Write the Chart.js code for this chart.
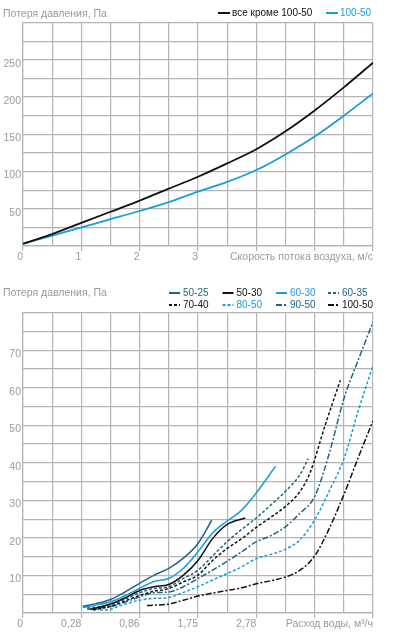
<!DOCTYPE html>
<html><head><meta charset="utf-8">
<script src="https://cdn.jsdelivr.net/npm/chart.js@4.4.1/dist/chart.umd.min.js"></script>
<style>
html,body{margin:0;padding:0;background:#fff;}
canvas{position:absolute;left:0;}
#c1{top:0;}
#c2{top:270px;}
</style></head><body>
<canvas id="c1" width="397" height="270"></canvas>
<canvas id="c2" width="397" height="368"></canvas>
<script>
// ---------- DATA ----------
const yTitle = 'Потеря давления, Па';

// top chart: pressure loss vs air speed
const airSpeed = [0, 0.5, 1, 1.5, 2, 2.5, 3, 3.5, 4, 4.5, 5, 5.5, 6];
const lossAllBut = [3, 16, 31, 46, 61, 77, 93, 111, 130, 154, 182, 213, 246];
const loss100_50 = [3, 14, 25, 36, 47, 59, 73, 86, 102, 123, 147, 175, 205];
const airNames = ['все кроме 100-50', '100-50'];
const airTickLabels = ['0', '1', '2', '3'];
const airTitle = 'Скорость потока воздуха, м/с';

// bottom chart: pressure loss vs water flow (x in grid positions)
const flowTickLabels = ['0', '0,28', '0,86', '1,75', '2,78'];
const flowTitle = 'Расход воды, м³/ч';
const seriesNames = ['50-25', '50-30', '60-30', '60-35', '70-40', '80-50', '90-50', '100-50'];

const s50_25x = [2.05, 2.5, 3, 3.5, 4, 4.5, 5, 5.5, 6, 6.47];
const s50_25y = [1.8, 2.5, 3.6, 5.6, 7.9, 10.1, 11.9, 14.6, 18.5, 24.7];
const s50_30x = [2.3, 3, 3.5, 4, 4.5, 5, 5.5, 6, 6.5, 7, 7.62];
const s50_30y = [0.9, 2.4, 4.0, 6.0, 7.0, 7.6, 10.1, 14.0, 19.8, 23.6, 25.3];
const s60_30x = [2.05, 2.5, 3, 3.5, 4, 4.5, 5, 5.5, 6, 6.5, 7, 7.5, 8, 8.66];
const s60_30y = [1.5, 2.1, 3.0, 4.6, 6.6, 8.4, 9.2, 11.9, 16.3, 21.3, 24.5, 27.4, 32.0, 39.1];
const s60_35x = [2.2, 3, 3.5, 4, 4.5, 5, 5.5, 6, 6.5, 7, 7.5, 8, 8.5, 9, 9.5, 9.78];
const s60_35y = [1.3, 2.2, 3.7, 5.4, 6.5, 7.0, 9.2, 11.4, 15.2, 19.0, 22.3, 25.3, 28.8, 32.4, 36.9, 41.1];
const s70_40x = [2.4, 3, 3.5, 4, 4.5, 5, 5.5, 6, 6.5, 7, 7.5, 8, 8.5, 9, 9.5, 9.85, 10.35, 10.88];
const s70_40y = [0.8, 1.8, 3.2, 4.7, 5.8, 6.5, 8.3, 10.1, 14.0, 17.2, 19.8, 22.8, 25.5, 28.4, 32.4, 37.5, 49.8, 62.0];
const s80_50x = [2.3, 2.8, 3.5, 4, 4.5, 5, 5.5, 6, 6.5, 7, 7.5, 8, 8.5, 9, 9.5, 10, 10.5, 11, 11.5, 12];
const s80_50y = [1.2, 0.8, 2.4, 3.4, 3.9, 4.1, 5.5, 7.0, 8.8, 10.5, 12.3, 14.5, 15.6, 17.0, 19.5, 24.8, 32.5, 41.0, 54.0, 65.9];
const s90_50x = [2.2, 3, 3.5, 4, 4.5, 5, 5.5, 6, 6.5, 7, 7.5, 8, 8.5, 9, 9.5, 10, 10.5, 11, 11.5, 12];
const s90_50y = [1.0, 1.7, 2.9, 4.3, 5.4, 5.6, 7.0, 9.2, 11.4, 13.8, 16.3, 19.0, 20.6, 23.0, 26.6, 31.0, 42.5, 57.0, 67.5, 77.5];
const s100_50x = [4.25, 5, 5.5, 6, 6.5, 7, 7.5, 8, 8.5, 9, 9.5, 10, 10.5, 11, 11.5, 12];
const s100_50y = [2.0, 2.4, 3.4, 4.5, 5.3, 6.0, 6.7, 7.8, 8.6, 9.6, 11.4, 15.2, 22.5, 31.5, 41.5, 51.2];

// ---------- STYLE ----------
const FONT = "'Liberation Sans', Arial, sans-serif";
const GRAY_TXT = '#9a9a9a';
const GRID = '#b4b4b4';
const TEAL = '#1f6484';
const BLUE = '#1b9cd8';
const BLACK = '#111111';
const DASH = [3, 2];
const DASHDOT = [6, 2, 2, 2];

const zip = (xs, ys) => xs.map((x, i) => ({x, y: ys[i]}));

const gridLegend = {
  id: 'gridLegend',
  afterDraw(chart, args, o) {
    const ctx = chart.ctx;
    ctx.save();
    ctx.font = o.font;
    ctx.textBaseline = 'middle';
    ctx.textAlign = 'left';
    chart.data.datasets.forEach((d, i) => {
      const col = i % o.cols, row = Math.floor(i / o.cols);
      const x = o.xs[col], y = o.y + row * o.rowH;
      ctx.strokeStyle = d.borderColor;
      ctx.lineWidth = o.lineW;
      ctx.setLineDash(d.borderDash || []);
      ctx.beginPath(); ctx.moveTo(x, y); ctx.lineTo(x + o.box, y); ctx.stroke();
      ctx.setLineDash([]);
      ctx.fillStyle = d.borderColor;
      ctx.fillText(d.label, x + o.box + o.gap, y + 0.5);
    });
    ctx.restore();
  }
};

function makeOptions(cfg) {
  return {
    responsive: false,
    animation: false,
    devicePixelRatio: 1,
    layout: {padding: {left: 3, right: 24, top: 0, bottom: 0}},
    elements: {point: {radius: 0}, line: {cubicInterpolationMode: 'monotone', borderCapStyle: 'butt'}},
    plugins: {
      legend: {display: false},
      tooltip: {enabled: false},
      title: {display: true, text: yTitle, align: 'start', color: GRAY_TXT,
              font: {family: FONT, size: 10.5, weight: 'normal'}, padding: cfg.titlePad},
      gridLegend: cfg.legend
    },
    scales: {
      x: {
        type: 'linear', min: 0, max: cfg.xMax,
        afterBuildTicks: s => { s.ticks = cfg.xTicks.map(v => ({value: v})); },
        afterFit: s => { s.height = cfg.xH; },
        grid: {color: GRID, lineWidth: 1.2, tickLength: 5,
               tickColor: c => (c.tick && cfg.isMajor(c.tick.value)) ? GRID : 'rgba(0,0,0,0)'},
        border: {color: GRID, width: 1.2},
        ticks: {autoSkip: false, maxRotation: 0, align: 'end', padding: 0, color: GRAY_TXT,
                font: {family: FONT, size: 10.5}, callback: cfg.xLabel}
      },
      y: {
        min: 0, max: cfg.yMax,
        afterBuildTicks: s => { s.ticks = cfg.yTicks.map(v => ({value: v})); },
        afterFit: s => { s.width = 20; },
        grid: {color: GRID, lineWidth: 1.2, drawTicks: false},
        border: {color: GRID, width: 1.2},
        ticks: {autoSkip: false, padding: 2, labelOffset: 4, color: GRAY_TXT,
                font: {family: FONT, size: 10.5}, callback: cfg.yLabel}
      }
    }
  };
}

// ---------- TOP CHART ----------
const topX = airSpeed.map((_, i) => i * 0.5);
new Chart(document.getElementById('c1'), {
  type: 'line',
  data: {datasets: [
    {label: airNames[0], data: zip(airSpeed, lossAllBut), borderColor: BLACK, borderWidth: 1.8, fill: false},
    {label: airNames[1], data: zip(airSpeed, loss100_50), borderColor: BLUE, borderWidth: 1.8, fill: false}
  ]},
  options: makeOptions({
    xMax: 6, yMax: 300, xH: 24,
    titlePad: {top: 8, bottom: 2},
    xTicks: topX,
    yTicks: Array.from({length: 13}, (_, i) => i * 25),
    isMajor: v => Number.isInteger(v),
    xLabel: v => (v === 6 ? airTitle : (Number.isInteger(v) && v < airTickLabels.length ? airTickLabels[v] : '')),
    yLabel: v => (v % 50 === 0 && v > 0 && v < 300) ? String(v) : '',
    legend: {font: '10px ' + FONT, cols: 2, xs: [218, 326], y: 13, rowH: 12, box: 12, gap: 2, lineW: 2}
  }),
  plugins: [gridLegend]
});

// ---------- BOTTOM CHART ----------
const bottomX = Array.from({length: 13}, (_, i) => i);
new Chart(document.getElementById('c2'), {
  type: 'line',
  data: {datasets: [
    {label: seriesNames[0], data: zip(s50_25x, s50_25y), borderColor: TEAL, borderWidth: 1.5},
    {label: seriesNames[1], data: zip(s50_30x, s50_30y), borderColor: BLACK, borderWidth: 1.5},
    {label: seriesNames[2], data: zip(s60_30x, s60_30y), borderColor: BLUE, borderWidth: 1.5},
    {label: seriesNames[3], data: zip(s60_35x, s60_35y), borderColor: TEAL, borderWidth: 1.5, borderDash: DASH},
    {label: seriesNames[4], data: zip(s70_40x, s70_40y), borderColor: BLACK, borderWidth: 1.5, borderDash: DASH},
    {label: seriesNames[5], data: zip(s80_50x, s80_50y), borderColor: BLUE, borderWidth: 1.5, borderDash: DASH},
    {label: seriesNames[6], data: zip(s90_50x, s90_50y), borderColor: TEAL, borderWidth: 1.5, borderDash: DASHDOT},
    {label: seriesNames[7], data: zip(s100_50x, s100_50y), borderColor: BLACK, borderWidth: 1.5, borderDash: DASHDOT}
  ]},
  options: makeOptions({
    xMax: 12, yMax: 80, xH: 25,
    titlePad: {top: 17, bottom: 13},
    xTicks: bottomX,
    yTicks: Array.from({length: 17}, (_, i) => i * 5),
    isMajor: v => v % 2 === 0,
    xLabel: v => (v === 12 ? flowTitle : (v % 2 === 0 && v / 2 < flowTickLabels.length ? flowTickLabels[v / 2] : '')),
    yLabel: v => (v % 10 === 0 && v > 0 && v < 80) ? String(v) : '',
    legend: {font: '10px ' + FONT, cols: 4, xs: [169, 222.5, 276, 328], y: 23, rowH: 12, box: 11, gap: 3, lineW: 2}
  }),
  plugins: [gridLegend]
});
</script>
</body></html>
